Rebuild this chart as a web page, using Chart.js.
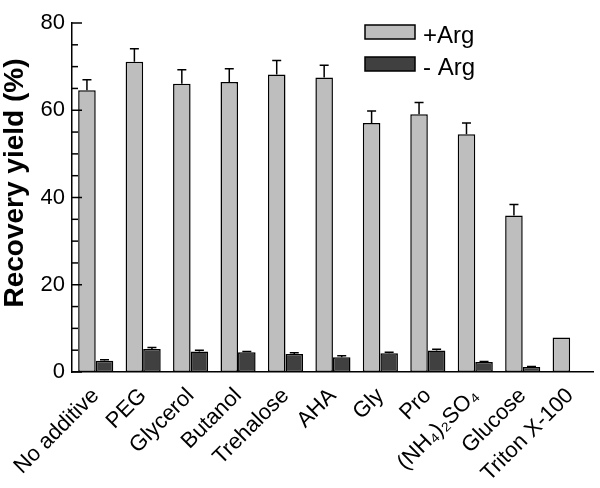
<!DOCTYPE html>
<html>
<head>
<meta charset="utf-8">
<script src="https://cdn.jsdelivr.net/npm/chart.js@4/dist/chart.umd.min.js"></script>
<style>
html,body{margin:0;padding:0;background:#fff;}
#wrap{width:600px;height:488px;position:relative;}
</style>
</head>
<body>
<div id="wrap"><canvas id="c" width="600" height="488"></canvas></div>
<script>
const categories = ['No additive','PEG','Glycerol','Butanol','Trehalose','AHA','Gly','Pro','(NH\u2084)\u2082SO\u2084','Glucose','Triton X-100'];
const plusArg = [64.6, 71.1, 66.1, 66.5, 68.2, 67.5, 57.1, 59.1, 54.5, 35.9, 7.9];
const plusArgErr = [2.4, 3.0, 3.2, 3.0, 3.2, 2.8, 2.7, 2.7, 2.6, 2.5, 0];
const minusArg = [2.6, 5.3, 4.7, 4.5, 4.1, 3.4, 4.3, 4.9, 2.3, 1.15, null];
const minusArgErr = [0.2, 0.3, 0.3, 0.2, 0.3, 0.3, 0.2, 0.3, 0.1, 0.1, 0];
const yTicks = [0, 20, 40, 60, 80];
const seriesLabels = ['+Arg', '- Arg'];
const yTitle = 'Recovery yield (%)';

const FONT = "'Liberation Sans', Arial, sans-serif";
const errors = [plusArgErr, minusArgErr];

const errorBarPlugin = {
  id: 'errorBars',
  afterDatasetsDraw(chart) {
    const ctx = chart.ctx;
    const y = chart.scales.y;
    ctx.save();
    ctx.strokeStyle = '#000';
    ctx.lineWidth = 1.5;
    chart.data.datasets.forEach((ds, di) => {
      const meta = chart.getDatasetMeta(di);
      meta.data.forEach((bar, i) => {
        const v = ds.data[i];
        const e = errors[di][i];
        if (v == null || !e) return;
        const x = bar.x;
        const yTop = y.getPixelForValue(v);
        const yErr = y.getPixelForValue(v + e);
        ctx.beginPath();
        ctx.moveTo(x, yTop);
        ctx.lineTo(x, yErr);
        ctx.moveTo(x - 4.5, yErr);
        ctx.lineTo(x + 4.5, yErr);
        ctx.stroke();
      });
    });
    ctx.restore();
  }
};

const axisDecor = {
  id: 'axisDecor',
  afterDraw(chart) {
    const ctx = chart.ctx;
    const y = chart.scales.y;
    const left = chart.chartArea.left;
    ctx.save();
    ctx.strokeStyle = '#000';
    ctx.lineWidth = 1.5;
    for (let v = 0; v <= 80; v += 5) {
      const py = y.getPixelForValue(v);
      const len = (v % 20 === 0) ? 10 : 6;
      ctx.beginPath();
      ctx.moveTo(left, py);
      ctx.lineTo(left + len, py);
      ctx.stroke();
    }
    // y title
    ctx.translate(15, 183);
    ctx.rotate(-Math.PI / 2);
    ctx.fillStyle = '#000';
    ctx.font = "bold 28px " + FONT;
    ctx.textAlign = 'center';
    ctx.textBaseline = 'middle';
    ctx.fillText(yTitle, 0, 0);
    ctx.restore();

    // legend
    ctx.save();
    const items = chart.data.datasets;
    items.forEach((ds, i) => {
      const by = 25 + i * 32;
      ctx.fillStyle = ds.backgroundColor;
      ctx.fillRect(365, by, 50, 14);
      ctx.strokeStyle = '#000';
      ctx.lineWidth = 1.5;
      ctx.strokeRect(365, by, 50, 14);
      ctx.fillStyle = '#000';
      ctx.font = "24px " + FONT;
      ctx.textAlign = 'left';
      ctx.textBaseline = 'alphabetic';
      ctx.fillText(ds.label, 423, by + 17.5);
    });
    ctx.restore();
  }
};

new Chart(document.getElementById('c'), {
  type: 'bar',
  data: {
    labels: categories,
    datasets: [
      { label: seriesLabels[0], data: plusArg, backgroundColor: '#bebebe', borderColor: '#000', borderWidth: 1.5, borderSkipped: false },
      { label: seriesLabels[1], data: minusArg, backgroundColor: '#404040', borderColor: '#000', borderWidth: 1.5, borderSkipped: false }
    ]
  },
  options: {
    responsive: false,
    animation: false,
    devicePixelRatio: 1,
    layout: { padding: { top: 23, right: 4, left: 0, bottom: 0 } },
    datasets: { bar: { categoryPercentage: 0.74, barPercentage: 1.0 } },
    plugins: { legend: { display: false }, tooltip: { enabled: false } },
    scales: {
      x: {
        grid: { display: false, drawTicks: false },
        border: { display: true, color: '#000', width: 1.5 },
        ticks: {
          color: '#000',
          font: { family: FONT, size: 22 },
          minRotation: 45, maxRotation: 45,
          autoSkip: false,
          padding: 11,
          labelOffset: 0
        },
        afterFit(s) { s.height = 116; }
      },
      y: {
        min: 0, max: 80,
        afterBuildTicks(s) { s.ticks = yTicks.map(v => ({ value: v })); },
        grid: { display: false, drawTicks: false },
        border: { display: true, color: '#000', width: 1.5 },
        ticks: {
          color: '#000',
          font: { family: FONT, size: 22 },
          padding: 7
        },
        afterFit(s) { s.width = 72; }
      }
    }
  },
  plugins: [errorBarPlugin, axisDecor]
});
</script>
</body>
</html>
